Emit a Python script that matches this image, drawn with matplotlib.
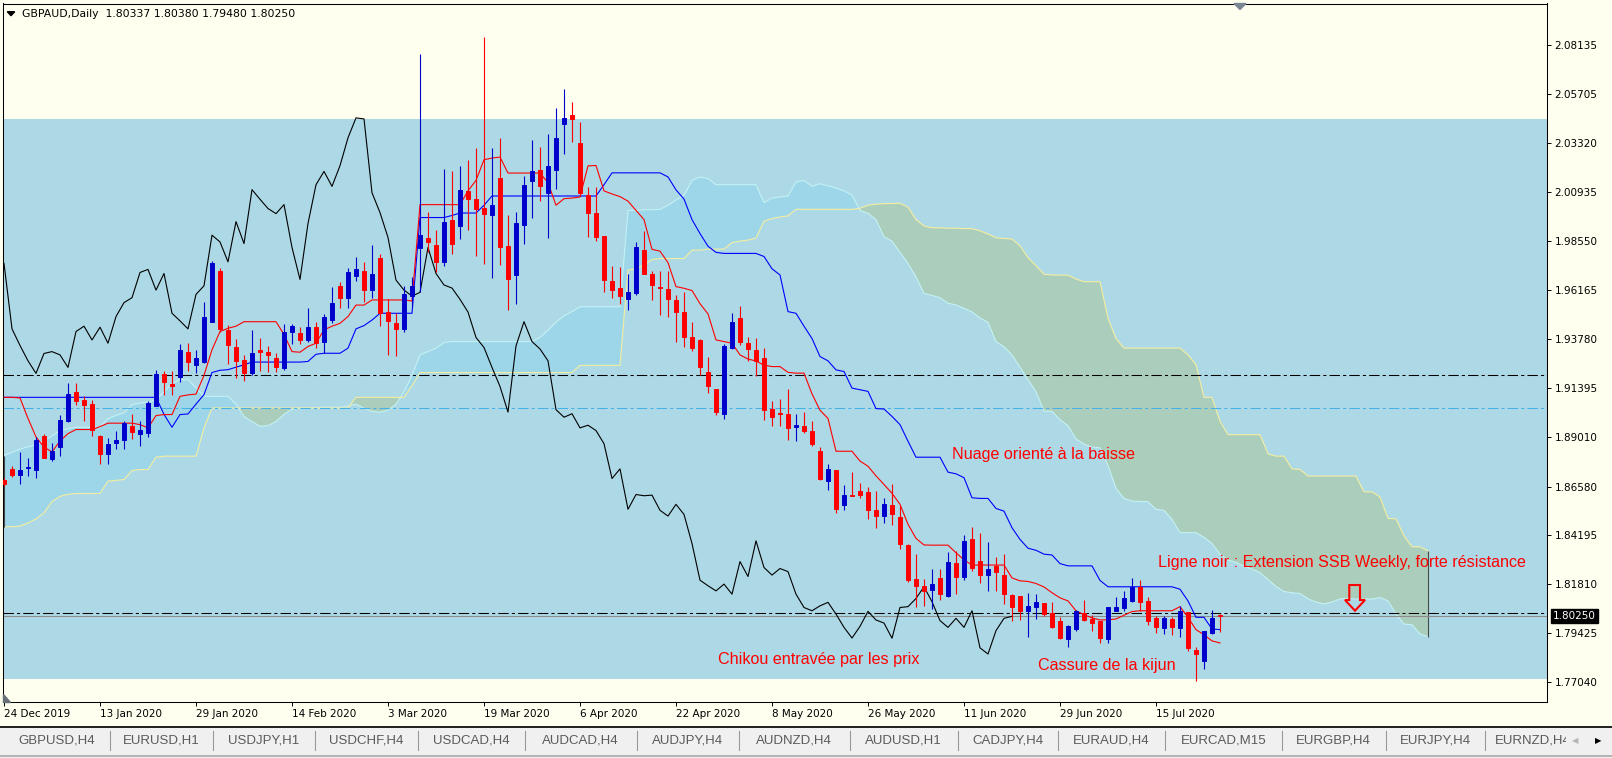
import numpy as np
import matplotlib
matplotlib.use("Agg")
import matplotlib.pyplot as plt
from matplotlib.patches import Rectangle, Polygon
from matplotlib.lines import Line2D

# GBPAUD daily, 24 Dec 2019 .. 27 Jul 2020 (one value per bar)
opens = [
    1.8692, 1.8744, 1.8712, 1.8746, 1.8741, 1.8903, 1.8790, 1.8851, 1.8976, 1.9119,
    1.9080, 1.9061, 1.8903, 1.8817, 1.8868, 1.8885, 1.8952, 1.8916, 1.8921, 1.9052,
    1.9206, 1.9159, 1.9193, 1.9313, 1.9252, 1.9263, 1.9462, 1.9709, 1.9422, 1.9338,
    1.9274, 1.9210, 1.9326, 1.9316, 1.9287, 1.9235, 1.9414, 1.9406, 1.9373, 1.9438,
    1.9362, 1.9470, 1.9637, 1.9579, 1.9684, 1.9710, 1.9616, 1.9775, 1.9511, 1.9454,
    1.9427, 1.9589, 1.9819, 1.9868, 1.9838, 1.9751, 1.9960, 1.9928, 2.0098, 2.0062,
    2.0018, 1.9984, 2.0164, 1.9830, 1.9688, 1.9936, 2.0146, 2.0200, 2.0091, 2.0203,
    2.0424, 2.0472, 2.0334, 2.0082, 1.9994, 1.9882, 1.9662, 1.9628, 1.9571, 1.9600,
    1.9814, 1.9697, 1.9631, 1.9620, 1.9566, 1.9508, 1.9385, 1.9372, 1.9219, 1.9133,
    1.9013, 1.9336, 1.9482, 1.9357, 1.9325, 1.9284, 1.9036, 1.9017, 1.9012, 1.8947,
    1.8952, 1.8928, 1.8830, 1.8684, 1.8739, 1.8568, 1.8618, 1.8636, 1.8631, 1.8543,
    1.8514, 1.8566, 1.8509, 1.8373, 1.8206, 1.8174, 1.8153, 1.8214, 1.8125, 1.8287,
    1.8219, 1.8404, 1.8295, 1.8226, 1.8268, 1.8224, 1.8130, 1.8125, 1.8052, 1.8068,
    1.8088, 1.8039, 1.8003, 1.7914, 1.7963, 1.8039, 1.8012, 1.8000, 1.7914, 1.8052,
    1.8065, 1.8098, 1.8169, 1.8098, 1.8015, 1.7968, 1.8010, 1.7968, 1.8044, 1.7862,
    1.7809, 1.7944, 1.80337,
]
highs = [
    1.8701, 1.8757, 1.8827, 1.8798, 1.8898, 1.8915, 1.8871, 1.9009, 1.9163, 1.9163,
    1.9098, 1.9082, 1.8911, 1.8895, 1.8931, 1.8979, 1.9012, 1.8979, 1.9077, 1.9227,
    1.9222, 1.9222, 1.9352, 1.9360, 1.9325, 1.9556, 1.9759, 1.9725, 1.9446, 1.9377,
    1.9300, 1.9422, 1.9381, 1.9341, 1.9308, 1.9449, 1.9449, 1.9436, 1.9527, 1.9459,
    1.9498, 1.9629, 1.9654, 1.9722, 1.9778, 1.9751, 1.9838, 1.9790, 1.9573, 1.9503,
    1.9637, 1.9681, 2.0767, 1.9997, 1.9908, 2.0208, 2.0195, 2.0223, 2.0249, 2.0310,
    2.0853, 2.0310, 2.0359, 1.9981, 1.9997, 2.0171, 2.0346, 2.0313, 2.0378, 2.0505,
    2.0597, 2.0532, 2.0435, 2.0119, 2.0119, 1.9882, 1.9736, 1.9730, 1.9697, 1.9851,
    1.9905, 1.9710, 1.9710, 1.9710, 1.9592, 1.9605, 1.9462, 1.9378, 1.9292, 1.9133,
    1.9352, 1.9503, 1.9540, 1.9385, 1.9381, 1.9333, 1.9073, 1.9086, 1.9133, 1.9012,
    1.9020, 1.8976, 1.8850, 1.8769, 1.8739, 1.8665, 1.8730, 1.8676, 1.8655, 1.8636,
    1.8603, 1.8671, 1.8563, 1.8378, 1.8331, 1.8206, 1.8258, 1.8255, 1.8341, 1.8344,
    1.8420, 1.8462, 1.8433, 1.8389, 1.8312, 1.8328, 1.8133, 1.8125, 1.8141, 1.8133,
    1.8088, 1.8096, 1.8020, 1.7984, 1.8055, 1.8104, 1.8031, 1.8000, 1.8072, 1.8117,
    1.8149, 1.8214, 1.8203, 1.8117, 1.8028, 1.8028, 1.8020, 1.8076, 1.8044, 1.7877,
    1.7955, 1.8055, 1.80380,
]
lows = [
    1.8660, 1.8704, 1.8668, 1.8709, 1.8701, 1.8795, 1.8782, 1.8809, 1.8971, 1.9057,
    1.8976, 1.8903, 1.8770, 1.8770, 1.8843, 1.8843, 1.8892, 1.8858, 1.8900, 1.9049,
    1.9103, 1.9103, 1.9169, 1.9222, 1.9211, 1.9260, 1.9459, 1.9414, 1.9257, 1.9187,
    1.9171, 1.9203, 1.9222, 1.9219, 1.9219, 1.9227, 1.9352, 1.9352, 1.9362, 1.9336,
    1.9308, 1.9454, 1.9527, 1.9527, 1.9660, 1.9560, 1.9576, 1.9443, 1.9300, 1.9295,
    1.9414, 1.9535, 1.9608, 1.9803, 1.9705, 1.9733, 1.9791, 1.9863, 1.9908, 1.9782,
    1.9743, 1.9673, 1.9738, 1.9519, 1.9548, 1.9840, 1.9970, 2.0049, 1.9868, 2.0108,
    2.0281, 2.0338, 2.0078, 1.9873, 1.9855, 1.9607, 1.9576, 1.9547, 1.9519, 1.9592,
    1.9694, 1.9568, 1.9495, 1.9483, 1.9365, 1.9338, 1.9320, 1.9200, 1.9114, 1.9008,
    1.8989, 1.9329, 1.9346, 1.9271, 1.9195, 1.8984, 1.8952, 1.8952, 1.8887, 1.8879,
    1.8919, 1.8855, 1.8692, 1.8639, 1.8530, 1.8542, 1.8610, 1.8603, 1.8498, 1.8457,
    1.8482, 1.8469, 1.8352, 1.8190, 1.8068, 1.8076, 1.8060, 1.8104, 1.8117, 1.8133,
    1.8201, 1.8247, 1.8185, 1.8149, 1.8149, 1.8085, 1.8000, 1.8007, 1.7922, 1.8012,
    1.8028, 1.7968, 1.7914, 1.7874, 1.7955, 1.8004, 1.7955, 1.7893, 1.7893, 1.8049,
    1.8049, 1.8093, 1.8052, 1.7984, 1.7942, 1.7939, 1.7936, 1.7926, 1.7858, 1.7707,
    1.7768, 1.7939, 1.79480,
]
closes = [
    1.8668, 1.8712, 1.8738, 1.8751, 1.8885, 1.8798, 1.8830, 1.8981, 1.9109, 1.9077,
    1.9057, 1.8932, 1.8817, 1.8866, 1.8885, 1.8966, 1.8926, 1.8934, 1.9065, 1.9206,
    1.9167, 1.9150, 1.9323, 1.9266, 1.9284, 1.9484, 1.9746, 1.9427, 1.9346, 1.9271,
    1.9210, 1.9307, 1.9316, 1.9300, 1.9239, 1.9414, 1.9440, 1.9373, 1.9435, 1.9357,
    1.9487, 1.9555, 1.9579, 1.9702, 1.9717, 1.9616, 1.9697, 1.9503, 1.9466, 1.9427,
    1.9595, 1.9637, 1.9884, 1.9851, 1.9754, 1.9950, 1.9843, 2.0106, 2.0059, 2.0014,
    1.9989, 2.0033, 1.9824, 1.9668, 1.9941, 2.0130, 2.0195, 2.0122, 2.0223, 2.0359,
    2.0456, 2.0451, 2.0091, 1.9994, 1.9873, 1.9665, 1.9616, 1.9587, 1.9605, 1.9824,
    1.9697, 1.9641, 1.9626, 1.9571, 1.9509, 1.9385, 1.9336, 1.9239, 1.9146, 1.9021,
    1.9344, 1.9462, 1.9365, 1.9329, 1.9271, 1.9033, 1.8996, 1.9013, 1.8944, 1.8957,
    1.8931, 1.8867, 1.8697, 1.8744, 1.8547, 1.8619, 1.8613, 1.8616, 1.8542, 1.8514,
    1.8571, 1.8522, 1.8380, 1.8201, 1.8174, 1.8149, 1.8182, 1.8133, 1.8292, 1.8219,
    1.8393, 1.8263, 1.8226, 1.8258, 1.8243, 1.8133, 1.8068, 1.8052, 1.8076, 1.8093,
    1.8036, 1.7971, 1.7919, 1.7976, 1.8049, 1.8007, 1.7992, 1.7918, 1.8068, 1.8072,
    1.8112, 1.8169, 1.8096, 1.8004, 1.7971, 1.8015, 1.7971, 1.8052, 1.7871, 1.7841,
    1.7955, 1.8015, 1.80250,
]

# Ichimoku lines
tenkan = [
    1.9093, 1.9093, 1.9090, 1.8990, 1.8900, 1.8850, 1.8827, 1.8880, 1.8916, 1.8936,
    1.8936, 1.8936, 1.8950, 1.8967, 1.8967, 1.8967, 1.8967, 1.8960, 1.8944, 1.9004,
    1.9009, 1.9009, 1.9098, 1.9105, 1.9109, 1.9200, 1.9325, 1.9414, 1.9430, 1.9440,
    1.9462, 1.9462, 1.9462, 1.9462, 1.9462, 1.9400, 1.9316, 1.9313, 1.9341, 1.9357,
    1.9422, 1.9440, 1.9454, 1.9487, 1.9543, 1.9543, 1.9568, 1.9568, 1.9568, 1.9568,
    1.9568, 1.9563, 2.0033, 2.0033, 2.0033, 2.0033, 2.0033, 2.0033, 2.0100, 2.0151,
    2.0252, 2.0260, 2.0265, 2.0187, 2.0187, 2.0187, 2.0187, 2.0187, 2.0140, 2.0030,
    2.0062, 2.0065, 2.0070, 2.0222, 2.0224, 2.0100, 2.0085, 2.0072, 2.0050, 2.0005,
    1.9960, 1.9815, 1.9806, 1.9750, 1.9633, 1.9625, 1.9614, 1.9550, 1.9500, 1.9373,
    1.9365, 1.9357, 1.9300, 1.9280, 1.9270, 1.9250, 1.9243, 1.9243, 1.9215, 1.9211,
    1.9211, 1.9110, 1.9030, 1.8990, 1.8830, 1.8830, 1.8830, 1.8782, 1.8757, 1.8710,
    1.8668, 1.8625, 1.8571, 1.8474, 1.8405, 1.8373, 1.8372, 1.8372, 1.8372, 1.8335,
    1.8300, 1.8275, 1.8275, 1.8275, 1.8275, 1.8275, 1.8212, 1.8198, 1.8195, 1.8185,
    1.8168, 1.8140, 1.8115, 1.8100, 1.8052, 1.8033, 1.8017, 1.8007, 1.8008, 1.8012,
    1.8030, 1.8048, 1.8052, 1.8052, 1.8052, 1.8052, 1.8052, 1.8072, 1.8020, 1.7960,
    1.7935, 1.7905, 1.7895,
]
kijun = [
    1.9093, 1.9093, 1.9093, 1.9093, 1.9093, 1.9093, 1.9093, 1.9093, 1.9093, 1.9093,
    1.9093, 1.9093, 1.9093, 1.9093, 1.9093, 1.9093, 1.9093, 1.9093, 1.9093, 1.9093,
    1.9010, 1.8947, 1.9009, 1.9012, 1.9060, 1.9106, 1.9214, 1.9225, 1.9228, 1.9240,
    1.9252, 1.9265, 1.9265, 1.9265, 1.9265, 1.9265, 1.9265, 1.9265, 1.9268, 1.9303,
    1.9308, 1.9308, 1.9308, 1.9333, 1.9427, 1.9443, 1.9470, 1.9503, 1.9503, 1.9503,
    1.9503, 1.9503, 1.9970, 1.9970, 1.9970, 1.9970, 1.9980, 1.9992, 1.9992, 1.9992,
    2.0030, 2.0075, 2.0075, 2.0075, 2.0075, 2.0075, 2.0075, 2.0075, 2.0075, 2.0075,
    2.0075, 2.0075, 2.0075, 2.0075, 2.0075, 2.0130, 2.0188, 2.0188, 2.0188, 2.0188,
    2.0188, 2.0188, 2.0188, 2.0168, 2.0105, 2.0060, 1.9960, 1.9892, 1.9830, 1.9800,
    1.9795, 1.9795, 1.9795, 1.9795, 1.9795, 1.9780, 1.9720, 1.9690, 1.9511, 1.9503,
    1.9440, 1.9380, 1.9292, 1.9271, 1.9227, 1.9219, 1.9138, 1.9130, 1.9122, 1.9038,
    1.9036, 1.9000, 1.8960, 1.8879, 1.8801, 1.8801, 1.8801, 1.8801, 1.8728, 1.8720,
    1.8701, 1.8603, 1.8600, 1.8600, 1.8551, 1.8538, 1.8457, 1.8400, 1.8357, 1.8347,
    1.8328, 1.8324, 1.8282, 1.8271, 1.8271, 1.8271, 1.8271, 1.8200, 1.8169, 1.8169,
    1.8169, 1.8169, 1.8169, 1.8169, 1.8169, 1.8169, 1.8169, 1.8157, 1.8100, 1.8020,
    1.8020, 1.7963, 1.7960,
]
# senkou spans run 26 bars past the last candle
senkou_a = [
    1.8809, 1.8825, 1.8840, 1.8852, 1.8862, 1.8880, 1.8905, 1.8930, 1.8940, 1.8947,
    1.8947, 1.8947, 1.8947, 1.8989, 1.9005, 1.9017, 1.9057, 1.9065, 1.9070, 1.9080,
    1.9120, 1.9160, 1.9179, 1.9179, 1.9140, 1.9098, 1.9098, 1.9098, 1.9098, 1.9060,
    1.9000, 1.8975, 1.8952, 1.8955, 1.8975, 1.9010, 1.9035, 1.9041, 1.9041, 1.9043,
    1.9045, 1.9045, 1.9045, 1.9050, 1.9060, 1.9040, 1.9025, 1.9020, 1.9030, 1.9060,
    1.9120, 1.9200, 1.9300, 1.9316, 1.9333, 1.9360, 1.9365, 1.9365, 1.9365, 1.9365,
    1.9365, 1.9365, 1.9365, 1.9365, 1.9365, 1.9365, 1.9365, 1.9385, 1.9420, 1.9460,
    1.9490, 1.9511, 1.9535, 1.9535, 1.9535, 1.9535, 1.9535, 1.9535, 2.0005, 2.0005,
    2.0008, 2.0008, 2.0010, 2.0030, 2.0055, 2.0078, 2.0151, 2.0168, 2.0160, 2.0130,
    2.0130, 2.0130, 2.0130, 2.0130, 2.0130, 2.0043, 2.0065, 2.0070, 2.0075, 2.0143,
    2.0151, 2.0122, 2.0135, 2.0125, 2.0114, 2.0100, 2.0080, 2.0005, 1.9990, 1.9960,
    1.9876, 1.9855, 1.9800, 1.9746, 1.9680, 1.9600, 1.9590, 1.9579, 1.9552, 1.9544,
    1.9527, 1.9510, 1.9480, 1.9459, 1.9365, 1.9340, 1.9300, 1.9240, 1.9180, 1.9120,
    1.9026, 1.9025, 1.8984, 1.8955, 1.8890, 1.8865, 1.8850, 1.8847, 1.8760, 1.8650,
    1.8600, 1.8587, 1.8585, 1.8584, 1.8547, 1.8542, 1.8498, 1.8433, 1.8433, 1.8433,
    1.8410, 1.8380, 1.8328, 1.8300, 1.8287, 1.8270, 1.8255, 1.8238, 1.8205, 1.8170,
    1.8146, 1.8140, 1.8136, 1.8110, 1.8095, 1.8085, 1.8095, 1.8110, 1.8112, 1.8109,
    1.8109, 1.8109, 1.8117, 1.8100, 1.8036, 1.7987, 1.7984, 1.7939, 1.7926,
]
senkou_b = [
    1.8462, 1.8462, 1.8465, 1.8480, 1.8500, 1.8530, 1.8585, 1.8610, 1.8620, 1.8624,
    1.8624, 1.8624, 1.8624, 1.8684, 1.8688, 1.8692, 1.8736, 1.8741, 1.8741, 1.8801,
    1.8806, 1.8806, 1.8806, 1.8806, 1.8806, 1.8944, 1.9041, 1.9041, 1.9041, 1.9041,
    1.9041, 1.9041, 1.9041, 1.9041, 1.9041, 1.9041, 1.9041, 1.9041, 1.9041, 1.9041,
    1.9041, 1.9041, 1.9041, 1.9041, 1.9093, 1.9093, 1.9093, 1.9093, 1.9093, 1.9093,
    1.9093, 1.9150, 1.9214, 1.9214, 1.9214, 1.9214, 1.9214, 1.9214, 1.9214, 1.9214,
    1.9214, 1.9214, 1.9214, 1.9214, 1.9214, 1.9214, 1.9214, 1.9214, 1.9214, 1.9214,
    1.9214, 1.9214, 1.9249, 1.9249, 1.9249, 1.9249, 1.9249, 1.9249, 1.9714, 1.9720,
    1.9740, 1.9765, 1.9770, 1.9770, 1.9770, 1.9770, 1.9811, 1.9811, 1.9816, 1.9816,
    1.9816, 1.9848, 1.9855, 1.9860, 1.9870, 1.9952, 1.9965, 1.9973, 1.9978, 2.0010,
    2.0010, 2.0010, 2.0010, 2.0010, 2.0010, 2.0010, 2.0010, 2.0015, 2.0030, 2.0035,
    2.0038, 2.0038, 2.0040, 2.0020, 1.9960, 1.9929, 1.9920, 1.9920, 1.9918, 1.9918,
    1.9916, 1.9916, 1.9905, 1.9890, 1.9871, 1.9868, 1.9865, 1.9832, 1.9774, 1.9735,
    1.9693, 1.9690, 1.9689, 1.9689, 1.9670, 1.9657, 1.9657, 1.9657, 1.9479, 1.9380,
    1.9333, 1.9333, 1.9333, 1.9333, 1.9333, 1.9333, 1.9333, 1.9333, 1.9300, 1.9252,
    1.9093, 1.9093, 1.8976, 1.8911, 1.8911, 1.8911, 1.8911, 1.8911, 1.8817, 1.8806,
    1.8806, 1.8744, 1.8741, 1.8709, 1.8709, 1.8709, 1.8709, 1.8709, 1.8709, 1.8709,
    1.8632, 1.8632, 1.8607, 1.8503, 1.8500, 1.8417, 1.8364, 1.8364, 1.8344,
]
chikou_shift = 26

# horizontal levels drawn on the chart
zone_low, zone_high = 1.7717, 2.0451
level_black_hi = 1.9202
level_blue = 1.9040
level_black_lo = 1.8039

price_ticks = [2.08135, 2.05705, 2.03320, 2.00935, 1.98550, 1.96165, 1.93780,
               1.91395, 1.89010, 1.86580, 1.84195, 1.81810, 1.79425, 1.77040]
date_labels = ['24 Dec 2019', '13 Jan 2020', '29 Jan 2020', '14 Feb 2020', '3 Mar 2020',
               '19 Mar 2020', '6 Apr 2020', '22 Apr 2020', '8 May 2020', '26 May 2020',
               '11 Jun 2020', '29 Jun 2020', '15 Jul 2020']
date_label_bars = [0, 12, 24, 36, 48, 60, 72, 84, 96, 108, 120, 132, 144]

tabs = ['GBPUSD,H4', 'EURUSD,H1', 'USDJPY,H1', 'USDCHF,H4', 'USDCAD,H4', 'AUDCAD,H4',
        'AUDJPY,H4', 'AUDNZD,H4', 'AUDUSD,H1', 'CADJPY,H4', 'EURAUD,H4', 'EURCAD,M15',
        'EURGBP,H4', 'EURJPY,H4', 'EURNZD,H4']
tab_edges = [3, 109.5, 213, 315, 417.5, 525, 636.5, 739, 849.7, 957.7, 1058, 1165,
             1281.6, 1386, 1484.7]

# colours
IVORY = '#fffff0'
ZONE = '#add8e6'
CLOUD_UP = '#9dd6e9'
CLOUD_DN = '#abcdbb'
SPAN_A = '#c4f2f4'
SPAN_B = '#f4eea0'
BULL = '#0000cd'
BEAR = '#ff0000'

W, H = 1612, 758
plt.rcParams['font.family'] = ['DejaVu Sans']


def fx(x):
    return x / W


def fy(y):
    return 1 - y / H


fig = plt.figure(figsize=(W / 100, H / 100), dpi=100, facecolor=IVORY)
left, right, top, bottom = 2.7, 1546.7, 3.5, 702.0
ax = fig.add_axes([fx(left), fy(bottom), (right - left) / W, (bottom - top) / H])
ax.set_facecolor(IVORY)
ax.set_xlim((left - 4) / 8, (right - 4) / 8)
ax.set_ylim(2.08135 - (bottom - 44.6) * 0.00048776, 2.08135 + (44.6 - top) * 0.00048776)

o = np.array(opens)
h = np.array(highs)
l = np.array(lows)
c = np.array(closes)
idx = np.arange(len(c))

# background zone
ax.axhspan(zone_low, zone_high, color=ZONE, lw=0, zorder=0.5)

# kumo
sa = np.array(senkou_a)
sb = np.array(senkou_b)
cidx = np.arange(len(sa))
ax.fill_between(cidx, sa, sb, where=sa >= sb, interpolate=True, color=CLOUD_UP, lw=0, zorder=1)
ax.fill_between(cidx, sa, sb, where=sa < sb, interpolate=True, color=CLOUD_DN, lw=0, zorder=1)
ax.plot(cidx, sa, color=SPAN_A, lw=0.8, zorder=1.5)
ax.plot(cidx, sb, color=SPAN_B, lw=0.8, zorder=1.5)
ax.vlines([cidx[0], cidx[-1]], np.minimum(sa, sb)[[0, -1]], np.maximum(sa, sb)[[0, -1]],
          colors='#4a4a4a', lw=0.8, zorder=1.6)

# horizontal levels
dashdot = (0, (10, 3, 3, 3))
ax.axhline(level_black_hi, color='black', lw=0.75, ls=dashdot, zorder=2)
ax.axhline(level_blue, color='#46b1e6', lw=0.75, ls=dashdot, zorder=2)
ax.axhline(level_black_lo, color='black', lw=0.75, ls=dashdot, zorder=2)
ax.axhline(closes[-1], color='#8c8c8c', lw=0.75, zorder=2)

# ichimoku lines
ax.plot(idx[:-chikou_shift], c[chikou_shift:], color='black', lw=0.8, zorder=3)
ax.plot(idx, kijun, color='#0000ff', lw=0.8, zorder=3)
ax.plot(idx, tenkan, color='#ff0000', lw=0.8, zorder=3)

# candles
col = np.where(c > o, BULL, BEAR)
ax.vlines(idx, l, h, colors=col, lw=0.8, zorder=4)
ax.bar(idx, np.abs(c - o), bottom=np.minimum(o, c), width=0.56, color=col,
       edgecolor=col, lw=0.7, zorder=5)

# notes
note = dict(color='#ff0000', fontsize=11.6, family='Liberation Sans', va='center', zorder=6)
ax.text(118.46, 1.8812, 'Nuage orienté à la baisse', **note)
ax.text(144.29, 1.8288, 'Ligne noir : Extension SSB Weekly, forte résistance', **note)
ax.text(89.25, 1.7812, 'Chikou entravée par les prix', **note)
ax.text(129.25, 1.7784, 'Cassure de la kijun', **note)
ax.add_patch(Polygon([(168.16, 1.81776), (169.5, 1.81776), (169.5, 1.81045),
                      (170.125, 1.81045), (168.875, 1.80523), (167.625, 1.81045),
                      (168.16, 1.81045)], closed=True, fill=False, ec='#ff0000',
                     lw=1.5, zorder=6))

# axes
for s in ax.spines.values():
    s.set_color('black')
    s.set_linewidth(0.75)
ax.yaxis.tick_right()
ax.set_yticks(price_ticks)
ax.set_yticklabels([f'{v:.5f}' for v in price_ticks])
ax.tick_params(axis='y', direction='out', length=3, width=0.7, pad=2.5, labelsize=7.5)
ax.set_xticks(date_label_bars)
ax.set_xticklabels(date_labels)
for t in ax.get_xticklabels():
    t.set_ha('left')
ax.tick_params(axis='x', direction='out', length=3, width=0.7, pad=2, labelsize=7.5)

ax.annotate(f'{closes[-1]:.5f}', xy=(1, closes[-1]), xycoords=('axes fraction', 'data'),
            xytext=(4.5, 0), textcoords='offset points', ha='left', va='center',
            fontsize=7.5, color='white', annotation_clip=False,
            bbox=dict(boxstyle='square,pad=0.2', fc='black', ec='black'))

# title line
fig.text(fx(21.7), fy(14), f'GBPAUD,Daily  {opens[-1]:.5f} {highs[-1]:.5f} '
         f'{lows[-1]:.5f} {closes[-1]:.5f}', fontsize=7.8, va='center')
fig.add_artist(Polygon([(fx(7.3), fy(11.7)), (fx(14.7), fy(11.7)), (fx(11), fy(15.7))],
                       transform=fig.transFigure, color='black'))
# chart shift marker and corner mark
fig.add_artist(Polygon([(fx(1234), fy(3.5)), (fx(1246), fy(3.5)), (fx(1240), fy(9.5))],
                       transform=fig.transFigure, color='#7b8794', zorder=10))
fig.add_artist(Polygon([(fx(3.2), fy(694)), (fx(3.2), fy(701.5)), (fx(10), fy(701.5))],
                       transform=fig.transFigure, color='#6a7078', zorder=10))

# tab bar
fig.add_artist(Rectangle((0, 0), 1, fy(727.5), transform=fig.transFigure,
                         fc='#f0f0f0', ec='none', zorder=1))
fig.add_artist(Line2D([0, 1], [fy(726.8)] * 2, transform=fig.transFigure,
                      color='#1e1e1e', lw=1.4, zorder=2))
fig.add_artist(Line2D([0, 1], [fy(756)] * 2, transform=fig.transFigure,
                      color='#a8a8a8', lw=1.2, zorder=2))
for x in tab_edges[1:]:
    fig.add_artist(Line2D([fx(x)] * 2, [fy(731), fy(750)], transform=fig.transFigure,
                          color='#9a9a9a', lw=0.8, zorder=2))
for k, name in enumerate(tabs):
    if k + 1 < len(tab_edges):
        fig.text(fx((tab_edges[k] + tab_edges[k + 1]) / 2), fy(740.5), name,
                 ha='center', va='center', fontsize=9.5, family='Liberation Sans',
                 color='#5a5a5a', zorder=3)
    else:
        fig.text(fx(tab_edges[k] + 10), fy(740.5), name, ha='left', va='center',
                 fontsize=9.5, family='Liberation Sans', color='#5a5a5a', zorder=3)
fig.add_artist(Rectangle((fx(1566), fy(754)), 1 - fx(1566), (754 - 728.5) / H,
                         transform=fig.transFigure, fc='#f0f0f0', ec='none', zorder=4))
fig.text(fx(1575), fy(740.5), '\u25c0', ha='center', va='center', fontsize=6,
         color='#b4b4b4', zorder=5)
fig.text(fx(1598), fy(740.5), '\u25b6', ha='center', va='center', fontsize=6,
         color='black', zorder=5)

fig.savefig('out.png', dpi=100, facecolor=IVORY)
